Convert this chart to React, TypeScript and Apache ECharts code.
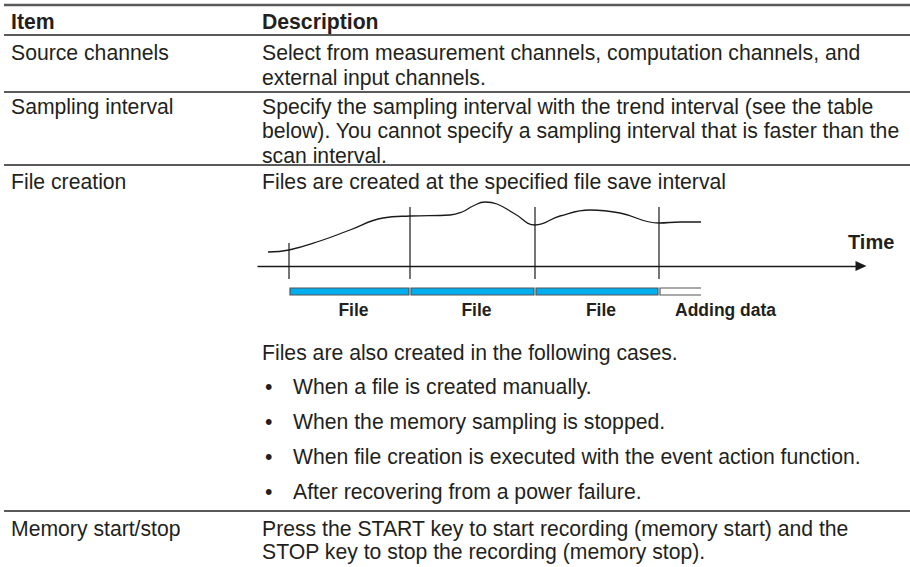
import React, { useEffect, useRef } from 'react';
import * as echarts from 'echarts';

// ---------- table content ----------
const HEADERS = ['Item', 'Description'];
const ITEMS = ['Source channels', 'Sampling interval', 'File creation', 'Memory start/stop'];
const DESC_SOURCE = [
  'Select from measurement channels, computation channels, and',
  'external input channels.',
];
const DESC_SAMPLING = [
  'Specify the sampling interval with the trend interval (see the table',
  'below). You cannot specify a sampling interval that is faster than the',
  'scan interval.',
];
const DESC_FILE = 'Files are created at the specified file save interval';
const FILE_ALSO = 'Files are also created in the following cases.';
const FILE_CASES = [
  'When a file is created manually.',
  'When the memory sampling is stopped.',
  'When file creation is executed with the event action function.',
  'After recovering from a power failure.',
];
const DESC_MEMORY = [
  'Press the START key to start recording (memory start) and the',
  'STOP key to stop the recording (memory stop).',
];

// ---------- diagram data (time units along the Time axis) ----------
const AXIS_NAME = 'Time';
const curveTime = [6, 27, 58, 88, 121, 148, 188, 200, 211, 223, 235, 253, 273, 298, 328, 358, 397, 418, 439];
const curveLevel = [14, 16, 25, 36, 48, 50, 51, 54, 60, 64, 62, 52, 41, 50, 56, 53, 43, 44, 44];
const boundaryTime = [27, 148, 273, 397];
const boundaryTop = [23, 59, 59, 59];
const segStart = [27, 148, 273, 397];
const segEnd = [148, 273, 397, 439];
const segKind = [0, 0, 0, 1]; // 0 = closed file, 1 = data being added
const segLabels = ['File', 'File', 'File', 'Adding data'];

// ---------- styles ----------
const FONT = '"Liberation Sans", Arial, Helvetica, sans-serif';
const TEXT = '#231f20';
const RULE = '#5a5a5a';
const FILE_FILL = '#00aeef';
const FS = 21.2;

const COL1 = 11;
const COL2 = 262;

function txt(text: string, x: number, y: number, size = FS, weight: any = 'normal') {
  return {
    type: 'text',
    x,
    y,
    silent: true,
    style: {
      text,
      fill: TEXT,
      fontSize: size,
      fontWeight: weight,
      fontFamily: FONT,
      verticalAlign: 'middle',
      align: 'left',
    },
  };
}
function hline(y: number, w = 2) {
  return {
    type: 'line',
    silent: true,
    shape: { x1: 4, y1: y, x2: 910, y2: y },
    style: { stroke: RULE, lineWidth: w },
  };
}

function buildGraphics() {
  const g: any[] = [];
  g.push(hline(5, 2.5));
  g.push(txt(HEADERS[0], COL1, 21, FS, 'bold'));
  g.push(txt(HEADERS[1], COL2, 21, FS, 'bold'));
  g.push(hline(35));
  // Source channels
  g.push(txt(ITEMS[0], COL1, 52));
  DESC_SOURCE.forEach((t, i) => g.push(txt(t, COL2, 52 + i * 25)));
  g.push(hline(92));
  // Sampling interval
  g.push(txt(ITEMS[1], COL1, 106));
  DESC_SAMPLING.forEach((t, i) => g.push(txt(t, COL2, 106 + i * 24.5)));
  g.push(hline(165));
  // File creation
  g.push(txt(ITEMS[2], COL1, 181));
  g.push(txt(DESC_FILE, COL2, 181));
  g.push(txt(AXIS_NAME, 848, 242, 20, 'bold'));
  g.push(txt(FILE_ALSO, COL2, 352));
  FILE_CASES.forEach((t, i) => {
    g.push(txt('\u2022', 265, 386 + i * 35));
    g.push(txt(t, 293, 386 + i * 35));
  });
  g.push(hline(511));
  // Memory start/stop
  g.push(txt(ITEMS[3], COL1, 528));
  DESC_MEMORY.forEach((t, i) => g.push(txt(t, COL2, 528 + i * 23.5)));
  return g;
}

export default function App() {
  const ref = useRef<HTMLDivElement>(null);
  useEffect(() => {
    if (!ref.current) return;
    const chart = echarts.init(ref.current, null, { renderer: 'svg' });
    const curve = curveTime.map((t, i) => [t, curveLevel[i]]);
    const boundaries = boundaryTime.map((t, i) => [t, boundaryTop[i]]);
    const segments = segStart.map((s, i) => [s, segEnd[i], segKind[i]]);
    const option: any = {
      animation: false,
      backgroundColor: '#ffffff',
      grid: { left: 258, top: 176, width: 598, height: 140, containLabel: false },
      xAxis: {
        type: 'value',
        min: -4,
        max: 594,
        axisLine: {
          show: true,
          onZero: true,
          symbol: ['none', 'triangle'],
          symbolSize: [10, 11],
          symbolOffset: [0, 5],
          lineStyle: { color: '#1a1a1a', width: 1.4 },
        },
        axisTick: { show: false },
        axisLabel: { show: false },
        splitLine: { show: false },
      },
      yAxis: { type: 'value', min: -50, max: 90, show: false, splitLine: { show: false } },
      graphic: buildGraphics(),
      series: [
        {
          type: 'line',
          data: curve,
          smooth: 0.45,
          showSymbol: false,
          symbol: 'none',
          lineStyle: { color: '#1a1a1a', width: 1.3 },
          silent: true,
          z: 3,
        },
        {
          type: 'custom',
          data: boundaries,
          silent: true,
          z: 4,
          renderItem: (params: any, api: any) => {
            const t = api.value(0);
            const top = api.coord([t, api.value(1)]);
            const bot = api.coord([t, -13]);
            return {
              type: 'line',
              shape: { x1: top[0], y1: top[1], x2: bot[0], y2: bot[1] },
              style: { stroke: '#1a1a1a', lineWidth: 1.2 },
            };
          },
        },
        {
          type: 'custom',
          data: segments,
          silent: true,
          z: 4,
          renderItem: (params: any, api: any) => {
            const s = api.value(0);
            const e = api.value(1);
            const kind = api.value(2);
            const p0 = api.coord([s, -22]);
            const p1 = api.coord([e, -29]);
            const label = segLabels[params.dataIndex];
            const children: any[] = [];
            if (kind === 0) {
              children.push({
                type: 'rect',
                shape: { x: p0[0] + 1, y: p0[1], width: p1[0] - p0[0] - 2, height: p1[1] - p0[1] },
                style: { fill: FILE_FILL, stroke: '#555555', lineWidth: 1.2 },
              });
              children.push({
                type: 'text',
                x: (p0[0] + p1[0]) / 2 + 4,
                y: api.coord([s, -44])[1],
                style: {
                  text: label,
                  fill: TEXT,
                  fontSize: 17.5,
                  fontWeight: 'bold',
                  fontFamily: FONT,
                  align: 'center',
                  verticalAlign: 'middle',
                },
              });
            } else {
              children.push({
                type: 'polyline',
                shape: {
                  points: [
                    [p1[0], p0[1]],
                    [p0[0] + 1, p0[1]],
                    [p0[0] + 1, p1[1]],
                    [p1[0], p1[1]],
                  ],
                },
                style: { fill: null, stroke: '#555555', lineWidth: 1.2 },
              });
              children.push({
                type: 'text',
                x: p0[0] + 16,
                y: api.coord([s, -44])[1],
                style: {
                  text: label,
                  fill: TEXT,
                  fontSize: 17.5,
                  fontWeight: 'bold',
                  fontFamily: FONT,
                  align: 'left',
                  verticalAlign: 'middle',
                },
              });
            }
            return { type: 'group', children };
          },
        },
      ],
    };
    chart.setOption(option);
    return () => chart.dispose();
  }, []);
  return (
    <div
      ref={ref}
      style={{ position: 'absolute', left: 0, top: 0, width: 910, height: 567, background: '#ffffff' }}
    />
  );
}
